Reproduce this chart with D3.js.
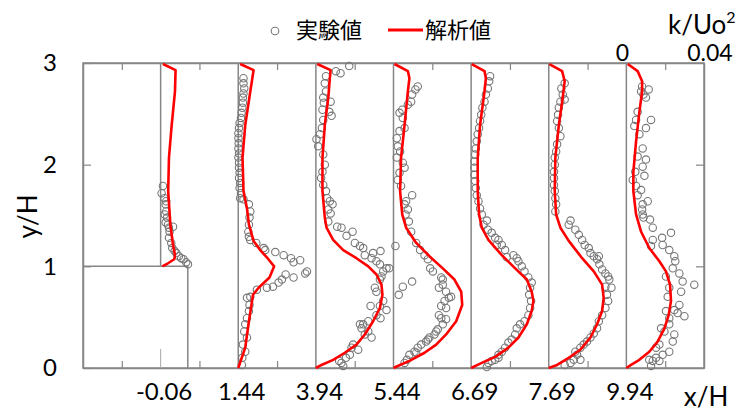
<!DOCTYPE html>
<html><head><meta charset="utf-8">
<script src="https://cdn.jsdelivr.net/npm/d3@7"></script>
<style>
body{margin:0;background:#fff;}
text{font-family:Lato,"Noto Sans",sans-serif;fill:#000;}
.cjk{font-family:"Noto Sans CJK JP",sans-serif;}
</style></head>
<body><svg id="chart" width="742" height="414"></svg>
<script>
// ---- data ----
const stations = ["-0.06","1.44","3.94","5.44","6.69","7.69","9.94"];
const yTicks = [0,1,2,3];
const keyTicks = ["0","0.04"];
// analysis (red line) per station: [k, y/H]
const calc_m006 = [[0.0012,2.99],[0.0077,2.93],[0.0074,2.72],[0.0057,2.39],[0.0043,2.07],[0.0039,1.74],[0.0050,1.41],[0.0064,1.21],[0.0074,1.11],[0.0070,1.07],[0.0038,1.03],[0.0009,1.00]];
const calc_144 = [[0.0010,2.99],[0.0079,2.93],[0.0062,2.72],[0.0036,2.39],[0.0022,2.07],[0.0027,1.74],[0.0045,1.57],[0.0055,1.41],[0.0079,1.25],[0.0113,1.16],[0.0151,1.08],[0.0185,1.00],[0.0161,0.89],[0.0105,0.79],[0.0076,0.72],[0.0055,0.46],[0.0036,0.20],[0.0000,0.00]];
const calc_394 = [[0.0007,2.99],[0.0076,2.93],[0.0072,2.85],[0.0064,2.66],[0.0046,2.39],[0.0034,2.07],[0.0034,1.74],[0.0046,1.48],[0.0055,1.38],[0.0089,1.26],[0.0141,1.16],[0.0209,1.08],[0.0270,1.00],[0.0312,0.92],[0.0338,0.82],[0.0343,0.72],[0.0330,0.59],[0.0295,0.46],[0.0252,0.33],[0.0209,0.23],[0.0149,0.15],[0.0089,0.08],[0.0029,0.03],[0,0]];
const calc_544 = [[0.0005,2.99],[0.0074,2.92],[0.0082,2.85],[0.0074,2.72],[0.0057,2.39],[0.0039,2.07],[0.0034,1.74],[0.0045,1.51],[0.0065,1.38],[0.0117,1.23],[0.0185,1.10],[0.0254,0.98],[0.0314,0.87],[0.0349,0.75],[0.0354,0.62],[0.0323,0.46],[0.0271,0.33],[0.0220,0.23],[0.0160,0.15],[0.0082,0.07],[0.0022,0.02],[0,0]];
const calc_669 = [[0.0003,2.99],[0.0069,2.92],[0.0076,2.85],[0.0069,2.72],[0.0046,2.39],[0.0034,2.07],[0.0034,1.74],[0.0041,1.51],[0.0055,1.38],[0.0089,1.26],[0.0158,1.11],[0.0227,0.98],[0.0287,0.87],[0.0312,0.75],[0.0321,0.66],[0.0312,0.56],[0.0287,0.43],[0.0244,0.30],[0.0192,0.20],[0.0124,0.11],[0.0055,0.05],[0,0]];
const calc_769 = [[0.0003,2.99],[0.0069,2.92],[0.0082,2.82],[0.0072,2.66],[0.0052,2.39],[0.0034,2.07],[0.0031,1.74],[0.0038,1.51],[0.0060,1.38],[0.0103,1.25],[0.0172,1.08],[0.0232,0.95],[0.0275,0.82],[0.0283,0.69],[0.0275,0.56],[0.0249,0.43],[0.0215,0.30],[0.0163,0.18],[0.0103,0.10],[0.0043,0.03],[0,0]];
const calc_994 = [[0.0007,2.99],[0.0058,2.92],[0.0081,2.82],[0.0081,2.72],[0.0067,2.52],[0.0050,2.23],[0.0036,1.93],[0.0036,1.74],[0.0050,1.51],[0.0076,1.34],[0.0118,1.18],[0.0170,1.05],[0.0204,0.95],[0.0225,0.82],[0.0230,0.66],[0.0218,0.52],[0.0196,0.39],[0.0161,0.26],[0.0118,0.16],[0.0067,0.08],[0.0024,0.03],[0,0]];
// experiment (circles) per station: [k, y/H]
const exp_m006 = [[0.0012,1.79],[0.0005,1.72],[0.0019,1.67],[0.0029,1.64],[0.0026,1.61],[0.0029,1.54],[0.0021,1.51],[0.0033,1.48],[0.0026,1.43],[0.0038,1.41],[0.0064,1.39],[0.0043,1.38],[0.0046,1.34],[0.0043,1.28],[0.0055,1.23],[0.0060,1.18],[0.0072,1.15],[0.0081,1.13],[0.0094,1.10],[0.0106,1.08],[0.0118,1.07],[0.0132,1.04],[0.0141,1.02]];
const exp_144 = [[0.0027,2.85],[0.0027,2.80],[0.0031,2.75],[0.0027,2.70],[0.0024,2.66],[0.0024,2.61],[0.0021,2.56],[0.0017,2.51],[0.0014,2.46],[0.0007,2.41],[0.0004,2.36],[0.0001,2.31],[0.0001,2.26],[0.0002,2.21],[0.0001,2.16],[0.0004,2.11],[0.0001,2.07],[0.0004,2.02],[0.0004,1.97],[0.0007,1.92],[0.0004,1.87],[0.0010,1.82],[0.0007,1.77],[0.0014,1.72],[0.0010,1.67],[0.0027,1.66],[0.0055,1.61],[0.0062,1.54],[0.0058,1.48],[0.0055,1.41],[0.0052,1.34],[0.0055,1.29],[0.0062,1.26],[0.0093,1.23],[0.0131,1.18],[0.0139,1.16],[0.0191,1.14],[0.0234,1.11],[0.0272,1.08],[0.0319,1.06],[0.0285,1.04],[0.0244,0.92],[0.0285,0.89],[0.0225,0.87],[0.0208,0.84],[0.0179,0.80],[0.0148,0.79],[0.0345,0.93],[0.0354,0.95],[0.0096,0.77],[0.0062,0.70],[0.0045,0.69],[0.0058,0.62],[0.0055,0.56],[0.0045,0.49],[0.0036,0.43],[0.0031,0.36],[0.0045,0.30],[0.0024,0.23],[0.0036,0.16],[0.0021,0.10],[0.0019,0.03]];
const exp_394 = [[0.0172,2.97],[0.0127,2.90],[0.0103,2.92],[0.0052,2.87],[0.0046,2.80],[0.0052,2.72],[0.0038,2.66],[0.0041,2.61],[0.0076,2.62],[0.0034,2.54],[0.0069,2.52],[0.0081,2.48],[0.0038,2.44],[0.0031,2.36],[0.0021,2.30],[0.0003,2.25],[0.0012,2.18],[0.0038,2.10],[0.0046,2.00],[0.0034,1.93],[0.0027,1.87],[0.0038,1.80],[0.0052,1.74],[0.0058,1.67],[0.0072,1.64],[0.0086,1.61],[0.0064,1.56],[0.0076,1.52],[0.0064,1.44],[0.0110,1.39],[0.0132,1.38],[0.0189,1.34],[0.0158,1.30],[0.0201,1.23],[0.0227,1.20],[0.0244,1.18],[0.0295,1.13],[0.0333,1.15],[0.0252,1.11],[0.0287,1.08],[0.0312,1.05],[0.0330,1.02],[0.0364,0.98],[0.0378,0.98],[0.0347,0.95],[0.0338,0.90],[0.0330,0.87],[0.0304,0.79],[0.0312,0.75],[0.0347,0.66],[0.0330,0.61],[0.0282,0.61],[0.0364,0.57],[0.0333,0.49],[0.0312,0.52],[0.0270,0.46],[0.0244,0.43],[0.0227,0.43],[0.0235,0.39],[0.0270,0.36],[0.0252,0.33],[0.0287,0.30],[0.0192,0.23],[0.0184,0.20],[0.0218,0.18],[0.0175,0.13],[0.0155,0.10],[0.0120,0.07],[0.0132,0.05],[0.0141,0.02]];
const exp_544 = [[0.0125,2.77],[0.0113,2.74],[0.0096,2.69],[0.0091,2.62],[0.0074,2.59],[0.0045,2.54],[0.0031,2.51],[0.0048,2.46],[0.0057,2.36],[0.0031,2.33],[0.0017,2.26],[0.0022,2.18],[0.0034,2.13],[0.0017,2.07],[0.0048,2.02],[0.0057,1.97],[0.0031,1.92],[0.0022,1.85],[0.0039,1.79],[0.0096,1.70],[0.0065,1.64],[0.0057,1.61],[0.0074,1.56],[0.0062,1.51],[0.0079,1.44],[0.0091,1.34],[0.0117,1.23],[0.0137,1.16],[0.0160,1.11],[0.0177,1.07],[0.0189,0.98],[0.0203,0.95],[0.0010,1.20],[0.0096,0.85],[0.0048,0.80],[0.0027,0.72],[0.0246,0.89],[0.0254,0.87],[0.0254,0.82],[0.0234,0.79],[0.0271,0.75],[0.0297,0.70],[0.0285,0.69],[0.0263,0.66],[0.0246,0.61],[0.0271,0.59],[0.0234,0.52],[0.0246,0.49],[0.0271,0.48],[0.0254,0.43],[0.0228,0.38],[0.0220,0.36],[0.0211,0.33],[0.0185,0.30],[0.0177,0.28],[0.0168,0.26],[0.0143,0.23],[0.0125,0.20],[0.0108,0.16],[0.0117,0.15],[0.0082,0.13],[0.0069,0.08],[0.0057,0.05]];
const exp_669 = [[0.0098,2.87],[0.0093,2.82],[0.0086,2.75],[0.0076,2.69],[0.0069,2.62],[0.0058,2.56],[0.0052,2.49],[0.0046,2.43],[0.0041,2.36],[0.0034,2.30],[0.0029,2.23],[0.0024,2.16],[0.0021,2.10],[0.0017,2.03],[0.0017,1.97],[0.0017,1.90],[0.0021,1.84],[0.0024,1.77],[0.0029,1.70],[0.0038,1.64],[0.0046,1.57],[0.0055,1.51],[0.0081,1.45],[0.0064,1.41],[0.0086,1.36],[0.0106,1.33],[0.0124,1.28],[0.0141,1.26],[0.0132,1.21],[0.0158,1.21],[0.0175,1.16],[0.0218,1.11],[0.0184,1.09],[0.0235,1.08],[0.0244,1.05],[0.0261,1.00],[0.0275,0.95],[0.0295,0.89],[0.0312,0.84],[0.0304,0.79],[0.0299,0.72],[0.0309,0.66],[0.0304,0.59],[0.0295,0.52],[0.0275,0.46],[0.0252,0.43],[0.0235,0.39],[0.0227,0.33],[0.0209,0.28],[0.0192,0.25],[0.0175,0.20],[0.0158,0.16],[0.0141,0.13],[0.0141,0.10],[0.0124,0.08],[0.0106,0.07],[0.0089,0.05],[0.0081,0.01]];
const exp_769 = [[0.0082,2.80],[0.0065,2.75],[0.0072,2.69],[0.0082,2.64],[0.0060,2.62],[0.0052,2.56],[0.0048,2.49],[0.0043,2.43],[0.0052,2.36],[0.0060,2.28],[0.0043,2.20],[0.0038,2.13],[0.0031,2.07],[0.0031,2.00],[0.0027,1.93],[0.0027,1.87],[0.0027,1.80],[0.0031,1.74],[0.0034,1.67],[0.0038,1.61],[0.0034,1.54],[0.0112,1.45],[0.0103,1.41],[0.0137,1.36],[0.0155,1.31],[0.0172,1.26],[0.0185,1.21],[0.0206,1.18],[0.0215,1.13],[0.0232,1.10],[0.0258,1.10],[0.0249,1.07],[0.0261,1.02],[0.0275,0.97],[0.0292,0.93],[0.0306,0.90],[0.0312,0.87],[0.0323,0.79],[0.0292,0.80],[0.0300,0.72],[0.0306,0.66],[0.0292,0.59],[0.0275,0.52],[0.0258,0.46],[0.0249,0.39],[0.0232,0.34],[0.0215,0.30],[0.0197,0.26],[0.0180,0.23],[0.0163,0.20],[0.0137,0.16],[0.0146,0.13],[0.0129,0.08],[0.0163,0.08],[0.0112,0.05],[0.0082,0.03]];
const exp_994 = [[0.0081,2.77],[0.0115,2.74],[0.0076,2.72],[0.0088,2.69],[0.0101,2.66],[0.0058,2.52],[0.0127,2.44],[0.0050,2.44],[0.0041,2.38],[0.0101,2.36],[0.0067,2.30],[0.0084,2.16],[0.0058,2.08],[0.0101,2.05],[0.0084,1.98],[0.0046,1.93],[0.0093,1.89],[0.0033,1.85],[0.0050,1.79],[0.0076,1.75],[0.0058,1.70],[0.0110,1.64],[0.0084,1.61],[0.0081,1.56],[0.0084,1.51],[0.0088,1.48],[0.0122,1.46],[0.0136,1.38],[0.0230,1.33],[0.0184,1.28],[0.0136,1.26],[0.0127,1.20],[0.0187,1.21],[0.0221,1.16],[0.0247,1.10],[0.0252,1.05],[0.0239,0.98],[0.0204,0.90],[0.0273,0.93],[0.0290,0.85],[0.0350,0.82],[0.0221,0.79],[0.0282,0.75],[0.0213,0.70],[0.0273,0.62],[0.0247,0.57],[0.0204,0.56],[0.0264,0.54],[0.0299,0.51],[0.0221,0.49],[0.0221,0.43],[0.0196,0.36],[0.0179,0.39],[0.0247,0.33],[0.0239,0.26],[0.0170,0.23],[0.0153,0.20],[0.0221,0.16],[0.0187,0.13],[0.0153,0.10],[0.0136,0.07],[0.0170,0.07],[0.0118,0.08],[0.0127,0.02]];

const calcSeries = [calc_m006, calc_144, calc_394, calc_544, calc_669, calc_769, calc_994];
const expSeries = [exp_m006, exp_144, exp_394, exp_544, exp_669, exp_769, exp_994];

// ---- layout ----
const colW = 0.04;           // k/Uo^2 width of one column
const nCols = 8;
const stepK = 0.054;         // right edge of step (in k units from left frame)
const svg = d3.select("#chart");
const L = 83, R = 704, T = 63, B = 368;
const x = d3.scaleLinear().domain([0, colW*nCols]).range([L, R]);
const y = d3.scaleLinear().domain([0, 3]).range([B, T]);
const gray = "#868686";
const off = i => colW*(i+1);

// frame
svg.append("rect").attr("x",L).attr("y",T).attr("width",R-L).attr("height",B-T)
  .attr("fill","none").attr("stroke",gray).attr("stroke-width",1.5);

// inward ticks via axes
const midTicks = d3.range(nCols).map(i => colW*i + colW/2);
const axB = svg.append("g").attr("transform",`translate(0,${B})`)
  .call(d3.axisBottom(x).tickValues(midTicks).tickSizeInner(-7).tickSizeOuter(0).tickFormat(""));
const axT = svg.append("g").attr("transform",`translate(0,${T})`)
  .call(d3.axisTop(x).tickValues(midTicks).tickSizeInner(-7).tickSizeOuter(0).tickFormat(""));
const axL = svg.append("g").attr("transform",`translate(${L},0)`)
  .call(d3.axisLeft(y).tickValues(yTicks).tickSizeInner(-8).tickSizeOuter(0).tickPadding(26).tickFormat(d3.format("d")));
const axR = svg.append("g").attr("transform",`translate(${R},0)`)
  .call(d3.axisRight(y).tickValues([1,2]).tickSizeInner(-8).tickSizeOuter(0).tickFormat(""));
[axB,axT,axL,axR].forEach(g=>{
  g.select(".domain").attr("stroke",gray).attr("stroke-width",1.5);
  g.selectAll(".tick line").attr("stroke",gray).attr("stroke-width",1.2);
});
axL.selectAll(".tick text").attr("font-size",24).style("font-family","Lato");

// station baselines
stations.forEach((s,i)=>{
  const y0 = i===0 ? 1 : 0;
  svg.append("line").attr("x1",x(off(i))).attr("x2",x(off(i)))
    .attr("y1",y(y0)).attr("y2",y(3)).attr("stroke",gray).attr("stroke-width",1.5);
});
// faint remnant of first baseline at bottom
svg.append("line").attr("x1",x(off(0))).attr("x2",x(off(0))).attr("y1",y(0)-19).attr("y2",y(0))
  .attr("stroke","#a8a8a8").attr("stroke-width",1);
// step
svg.append("path")
  .attr("d",`M${x(0)},${y(1)}H${x(stepK)}V${y(0)}`)
  .attr("fill","none").attr("stroke",gray).attr("stroke-width",1.5);

// station labels
const axLab = svg.append("g").attr("transform",`translate(3,${B})`)
  .call(d3.axisBottom(x).tickValues(stations.map((s,i)=>off(i))).tickSize(0).tickPadding(15)
    .tickFormat((d,i)=>stations[i]));
axLab.select(".domain").remove();
axLab.selectAll(".tick text").attr("font-size",24).style("font-family","Lato");

// experiment circles
expSeries.forEach((pts,i)=>{
  svg.append("g").selectAll("circle").data(pts).join("circle")
    .attr("cx",d=>x(off(i)+d[0])).attr("cy",d=>y(d[1])).attr("r",3.7)
    .attr("fill","none").attr("stroke","#777").attr("stroke-width",1.1);
});
// analysis lines
const line = d3.line();
calcSeries.forEach((pts,i)=>{
  svg.append("path").attr("d",line(pts.map(d=>[x(off(i)+d[0]), y(d[1])])))
    .attr("fill","none").attr("stroke","#ff0000").attr("stroke-width",2.6).attr("stroke-linejoin","round");
});

// axis titles
svg.append("text").attr("transform",`translate(37,${y(1.49)}) rotate(-90)`)
  .attr("text-anchor","middle").attr("font-size",26).text("y/H");
svg.append("text").attr("x",706).attr("y",406).attr("text-anchor","middle").attr("font-size",26).text("x/H");

// key scale on top right
const keyPos = [x(off(6))-4, x(off(7))+6];
keyTicks.forEach((t,i)=>{
  svg.append("text").attr("x",keyPos[i]).attr("y",61).attr("text-anchor","middle").attr("font-size",23).text(t);
});
const kt = svg.append("text").attr("x",668).attr("y",34).attr("font-size",26);
kt.append("tspan").text("k/Uo");
kt.append("tspan").attr("font-size",16).attr("dy",-11).text("2");

// legend
svg.append("circle").attr("cx",275).attr("cy",31).attr("r",3.8).attr("fill","none").attr("stroke","#777").attr("stroke-width",1.1);
svg.append("text").attr("class","cjk").attr("x",296).attr("y",38).attr("font-size",22).text("実験値");
svg.append("line").attr("x1",388).attr("x2",423).attr("y1",30).attr("y2",30).attr("stroke","#ff0000").attr("stroke-width",3);
svg.append("text").attr("class","cjk").attr("x",425).attr("y",38).attr("font-size",22).text("解析値");
</script></body></html>
